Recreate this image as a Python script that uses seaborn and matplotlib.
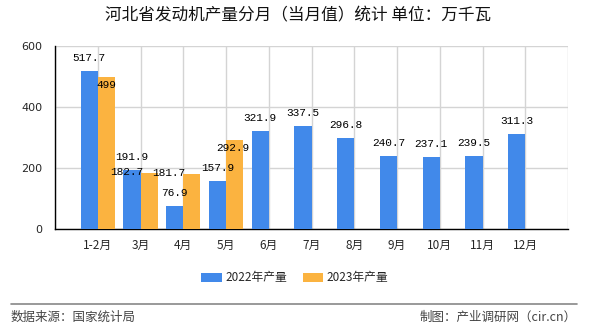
import numpy as np
import pandas as pd
import matplotlib
matplotlib.use("Agg")
import matplotlib.pyplot as plt
from matplotlib.lines import Line2D
from matplotlib.patches import Patch
import seaborn as sns

# ---- data ----
categories = ["1-2月", "3月", "4月", "5月", "6月", "7月", "8月", "9月", "10月", "11月", "12月"]
values_2022 = [517.7, 191.9, 76.9, 157.9, 321.9, 337.5, 296.8, 240.7, 237.1, 239.5, 311.3]
values_2023 = [499, 182.7, 181.7, 292.9, None, None, None, None, None, None, None]
series_names = ["2022年产量", "2023年产量"]
y_ticks = [0, 200, 400, 600]
title = "河北省发动机产量分月（当月值）统计 单位：万千瓦"
source_text = "数据来源：国家统计局"
credit_text = "制图：产业调研网（cir.cn）"

# ---- style ----
sns.set_style("white")
plt.rcParams["font.family"] = ["Noto Sans CJK SC", "DejaVu Sans"]
colors = ["#4189EA", "#FBB340"]

rows = []
for c, v in zip(categories, values_2022):
    rows.append({"cat": c, "series": series_names[0], "val": v})
for c, v in zip(categories, values_2023):
    rows.append({"cat": c, "series": series_names[1], "val": np.nan if v is None else v})
df = pd.DataFrame(rows)

fig = plt.figure(figsize=(5.9, 3.3), dpi=100)
ax = fig.add_axes([55 / 590, 101 / 330, 513 / 590, 183 / 330])

sns.barplot(data=df, x="cat", y="val", hue="series", order=categories,
            hue_order=series_names, palette=colors, width=0.8, dodge=True,
            saturation=1, legend=False, ax=ax, zorder=3, linewidth=0, edgecolor="none")

ax.set_xlim(-1, len(categories))
ax.set_ylim(0, 600)
ax.set_yticks(y_ticks)
ax.set_yticklabels([str(t) for t in y_ticks], fontsize=8, family=["DejaVu Sans"])
xt = list(range(-1, len(categories) + 1))
ax.set_xticks(xt)
ax.set_xticklabels([""] + categories + [""], fontsize=8.5)
ax.set_xlabel("")
ax.set_ylabel("")
ax.grid(True, color="#d4d4d4", linewidth=1, zorder=0)
ax.set_axisbelow(True)
for s in ["top", "right"]:
    ax.spines[s].set_visible(False)
for s in ["left", "bottom"]:
    ax.spines[s].set_color("black")
    ax.spines[s].set_linewidth(1)
ax.tick_params(axis="both", length=3, width=1, color="black", direction="out", pad=4)
ax.tick_params(axis="y", pad=6)

# value labels
lab_font = dict(fontsize=8, family=["Liberation Mono", "DejaVu Sans Mono"], color="black")
px = 0.72  # points per pixel
for i, v in enumerate(values_2022):
    ax.annotate(f"{v:g}", xy=(i - 0.2, v), xytext=(0, 13 * px), textcoords="offset points",
                ha="center", va="center", zorder=5, **lab_font)
orange_offsets = [(0, -8), (-22, 1), (-23, 1), (-2, -8)]
for i, v in enumerate(values_2023):
    if v is None:
        continue
    dx, dy = orange_offsets[i]
    ax.annotate(f"{v:g}", xy=(i + 0.2, v), xytext=(dx * px, dy * px), textcoords="offset points",
                ha="center", va="center", zorder=5, **lab_font)

# title
fig.text(298 / 590, 1 - 16 / 330, title, ha="center", va="center", fontsize=12, color="#111111")

# legend
handles = [Patch(facecolor=colors[0], edgecolor="none", label=series_names[0]),
           Patch(facecolor=colors[1], edgecolor="none", label=series_names[1])]
fig.legend(handles=handles, loc="center", bbox_to_anchor=(295 / 590, 1 - 278 / 330), ncol=2,
           frameon=False, fontsize=8.5, handlelength=1.7, handleheight=0.75,
           handletextpad=0.3, columnspacing=1.4)

# footer
fig.add_artist(Line2D([11 / 590, 577 / 590], [1 - 304 / 330, 1 - 304 / 330],
                      transform=fig.transFigure, color="#888888", linewidth=1.2))
fig.text(11 / 590, 1 - 317 / 330, source_text, ha="left", va="center", fontsize=9, color="#444444")
fig.text(577 / 590, 1 - 317 / 330, credit_text, ha="right", va="center", fontsize=9, color="#444444")

fig.savefig("out.png", dpi=100)
